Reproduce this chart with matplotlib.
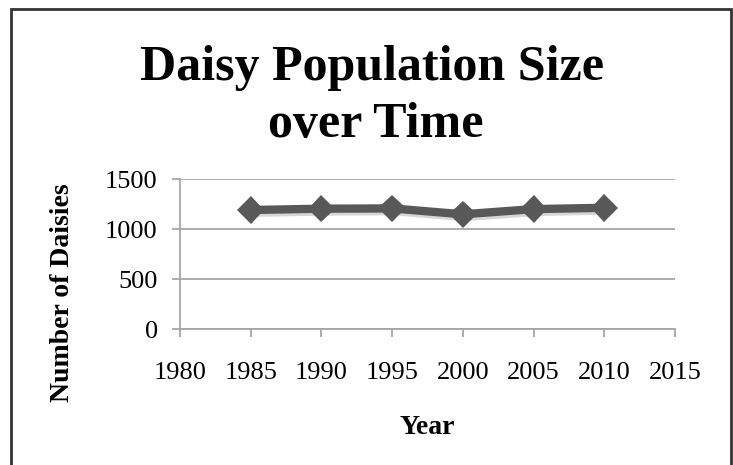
import matplotlib
matplotlib.use("Agg")
import matplotlib.pyplot as plt
import matplotlib.patheffects as pe
from matplotlib.patches import Rectangle

# Data
years = [1985, 1990, 1995, 2000, 2005, 2010]
daisies = [1190, 1203, 1206, 1147, 1199, 1212]
x_ticks = [1980, 1985, 1990, 1995, 2000, 2005, 2010, 2015]
y_ticks = [0, 500, 1000, 1500]

plt.rcParams['font.family'] = ['Liberation Serif', 'DejaVu Serif']

fig = plt.figure(figsize=(7.33, 4.65), dpi=100)
ax = fig.add_axes([180 / 733, 1 - 329 / 465, 495 / 733, 150 / 465])

# Line with diamond markers and a soft shadow
ax.plot(years, daisies, color='#585858', linewidth=6, marker='D', markersize=14,
        markeredgewidth=0, solid_joinstyle='miter', zorder=3,
        path_effects=[pe.SimpleLineShadow(offset=(1.5, -2), shadow_color='#bbbbbb', alpha=0.6),
                      pe.Normal()])

ax.set_xlim(1980, 2015)
ax.set_ylim(0, 1500)
ax.set_xticks(x_ticks)
ax.set_yticks(y_ticks)
ax.set_xticklabels([str(t) for t in x_ticks])

ax.grid(axis='y', color='#a6a6a6', linewidth=1.3)
ax.set_axisbelow(True)
for side in ['top', 'right']:
    ax.spines[side].set_visible(False)
for side in ['left', 'bottom']:
    ax.spines[side].set_color('#a6a6a6')
    ax.spines[side].set_linewidth(1.3)

ax.tick_params(axis='both', colors='#a6a6a6', labelcolor='black', labelsize=19,
               length=6, width=1.3)
ax.tick_params(axis='x', pad=18)
ax.tick_params(axis='y', pad=10)

ax.set_xlabel('Year', fontsize=20, fontweight='bold')
ax.set_ylabel('Number of Daisies', fontsize=20, fontweight='bold')
ax.xaxis.set_label_coords(0.5, -0.575)
ax.yaxis.set_label_coords(-0.212, 0.24)

fig.text(0.507, 1 - 68 / 465, 'Daisy Population Size', ha='center', va='center',
         fontsize=36, fontweight='bold')
fig.text(0.512, 1 - 125 / 465, 'over Time', ha='center', va='center',
         fontsize=36, fontweight='bold')

# Outer chart border (bottom edge falls outside the picture)
fig.patches.append(Rectangle((11 / 733, -0.05), 720 / 733, 1.05 - 9 / 465,
                             transform=fig.transFigure, fill=False,
                             edgecolor='#333333', linewidth=2))

fig.savefig('out.png', dpi=100)
